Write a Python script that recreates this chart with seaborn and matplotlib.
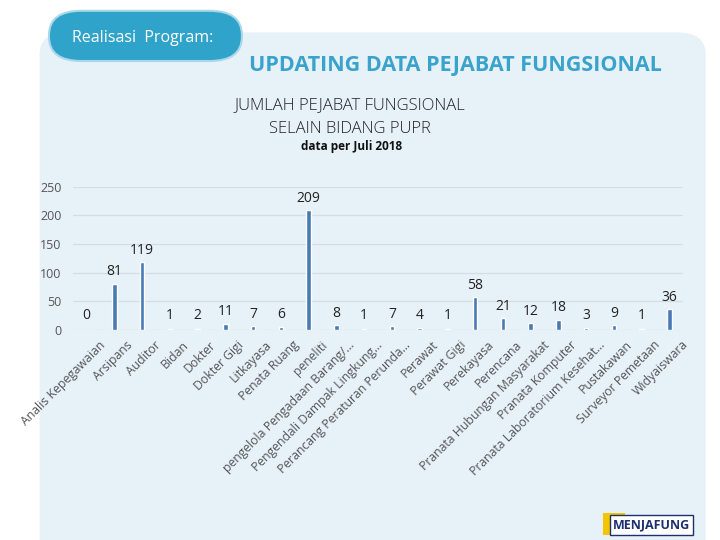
import matplotlib
matplotlib.use("Agg")
import matplotlib.pyplot as plt
import matplotlib.transforms as mtransforms
from matplotlib.patches import FancyBboxPatch
import seaborn as sns
import pandas as pd

# data
categories = [
    "Analis Kepegawaian", "Arsipans", "Auditor", "Bidan", "Dokter", "Dokter Gigi",
    "Litkayasa", "Penata Ruang", "peneliti", "pengelola Pengadaan Barang/...",
    "Pengendali Dampak Lingkung...", "Perancang Peraturan Perunda...", "Perawat",
    "Perawat Gigi", "Perekayasa", "Perencana", "Pranata Hubungan Masyarakat",
    "Pranata Komputer", "Pranata Laboratorium Kesehat...", "Pustakawan",
    "Surveyor Pemetaan", "Widyaiswara",
]
values = [0, 81, 119, 1, 2, 11, 7, 6, 209, 8, 1, 7, 4, 1, 58, 21, 12, 18, 3, 9, 1, 36]
y_ticks = [0, 50, 100, 150, 200, 250]

df = pd.DataFrame({"jabatan": categories, "jumlah": values})

sns.set_style("white")
plt.rcParams["font.family"] = ["Open Sans", "DejaVu Sans"]

fig = plt.figure(figsize=(7.2, 5.4), dpi=100)
fig.patch.set_facecolor("white")

# light blue panel behind everything
panel = FancyBboxPatch((0.055, -0.05), 0.925, 0.99, boxstyle="round,pad=0,rounding_size=0.04",
                       transform=fig.transFigure, facecolor="#e7f1f8", edgecolor="none", zorder=-2)
fig.patches.append(panel)

# "Realisasi Program:" pill
pill = FancyBboxPatch((0.068, 0.887), 0.268, 0.093, boxstyle="round,pad=0,rounding_size=0.045",
                      transform=fig.transFigure, facecolor="#2fa3c9", edgecolor="#a9d8ea",
                      linewidth=1.5, zorder=-1)
fig.patches.append(pill)
fig.text(0.1, 0.93, "Realisasi  Program:", color="white", fontsize=11.5, va="center", ha="left")

fig.text(0.632, 0.878, "UPDATING DATA PEJABAT FUNGSIONAL", color="#3aa3cc",
         fontsize=15.5, fontweight="bold", ha="center", va="center")
fig.text(0.486, 0.805, "JUMLAH PEJABAT FUNGSIONAL", color="#222222", fontsize=12,
         ha="center", va="center", fontweight="light")
fig.text(0.486, 0.762, "SELAIN BIDANG PUPR", color="#222222", fontsize=12,
         ha="center", va="center", fontweight="light")
fig.text(0.488, 0.729, "data per Juli 2018", color="#111111", fontsize=8.5,
         ha="center", va="center", fontweight="bold")

ax = fig.add_axes([0.101, 0.389, 0.848, 0.265])
ax.set_zorder(3)
ax.set_facecolor("none")
sns.barplot(data=df, x="jabatan", y="jumlah", color="#4a7ab2", width=0.16,
            saturation=1, ax=ax, zorder=3)

ax.set_ylim(0, 250)
ax.set_yticks(y_ticks)
ax.yaxis.grid(True, color="#d5dde3", linewidth=0.9, zorder=0)
ax.set_axisbelow(True)
for s in ax.spines.values():
    s.set_visible(False)
ax.set_xlabel("")
ax.set_ylabel("")
ax.tick_params(axis="y", colors="#555555", labelsize=9, length=0, pad=8)
ax.tick_params(axis="x", colors="#555555", labelsize=8.8, length=0, pad=6)
ax.set_xticks(range(len(categories)))
ax.set_xticklabels(categories, rotation=45, ha="right", rotation_mode="anchor")

# nudge rotated labels to the right, as in the original
shift = mtransforms.ScaledTranslation(12 / 100, 0, fig.dpi_scale_trans)
for lbl in ax.get_xticklabels():
    lbl.set_transform(lbl.get_transform() + shift)

# data labels
for i, v in enumerate(values):
    ax.annotate(str(v), (i, max(v, 5)), xytext=(0, 3), textcoords="offset points",
                ha="center", va="bottom", fontsize=10, color="#222222")

# logo at the bottom right
fig.text(0.905, 0.028, "MENJAFUNG", color="#1c2f6e", fontsize=9, fontweight="bold",
         ha="center", va="center",
         bbox=dict(boxstyle="square,pad=0.25", facecolor="white", edgecolor="#1c2f6e", linewidth=1))
logo = FancyBboxPatch((0.838, 0.01), 0.03, 0.04, boxstyle="square,pad=0",
                      transform=fig.transFigure, facecolor="#f2c500", edgecolor="none", zorder=2)
fig.patches.append(logo)

fig.savefig("out.png", dpi=100)
